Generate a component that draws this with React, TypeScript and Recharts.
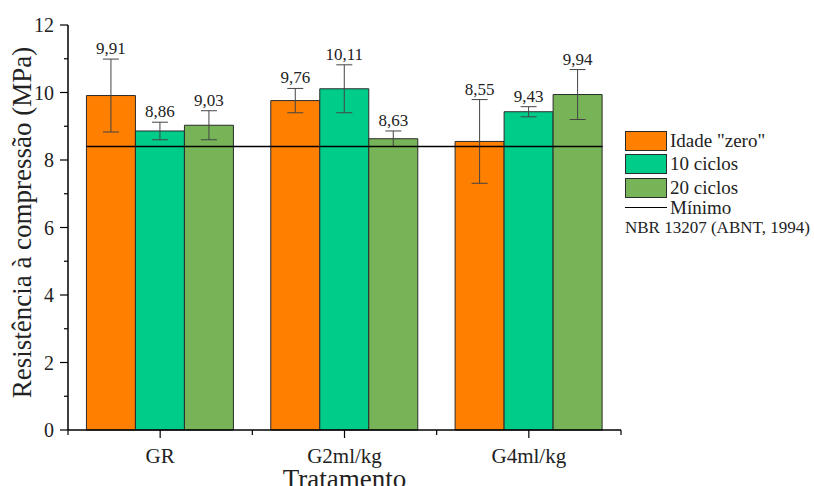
import { BarChart, Bar, XAxis, YAxis, ErrorBar, LabelList, ReferenceLine, Label } from 'recharts';

const categories = ['GR', 'G2ml/kg', 'G4ml/kg'];
const seriesNames = ['Idade "zero"', '10 ciclos', '20 ciclos'];
const idadeZero = [9.91, 9.76, 8.55];
const ciclos10 = [8.86, 10.11, 9.43];
const ciclos20 = [9.03, 8.63, 9.94];
const errIdadeZero = [1.08, 0.36, 1.24];
const errCiclos10 = [0.26, 0.71, 0.15];
const errCiclos20 = [0.43, 0.23, 0.74];
const yTicks = [0, 1, 2, 3, 4, 5, 6, 7, 8, 9, 10, 11, 12];
const minimo = 8.4;

const colors = ['#ff7f00', '#00cc8a', '#76b457'];
const font = 'Liberation Serif';

const W = 814;
const H = 486;
const M = { top: 25, right: 193, left: 0, bottom: 0 };
const Y_W = 68;
const X_H = 56;
const BAND = (W - M.right - Y_W) / categories.length;

const data = categories.map((cat, i) => ({
  cat,
  s0: idadeZero[i], e0: errIdadeZero[i],
  s1: ciclos10[i], e1: errCiclos10[i],
  s2: ciclos20[i], e2: errCiclos20[i],
}));

const fmt = (v: number) => v.toFixed(2).replace('.', ',');

function YTick({ x, y, payload }: any) {
  const v = payload.value as number;
  const major = v % 2 === 0;
  return (
    <g>
      <line x1={x} x2={x - (major ? 8 : 4)} y1={y} y2={y} stroke="#000" strokeWidth={1.2} />
      {major && (
        <text x={x - 14} y={y} dy={7} textAnchor="end" fontSize={20} fontFamily={font} fill="#222">{v}</text>
      )}
    </g>
  );
}

function XTick({ x, y, payload, index }: any) {
  const last = index === categories.length - 1;
  return (
    <g>
      <line x1={x} x2={x} y1={y} y2={y + 8} stroke="#000" strokeWidth={1.2} />
      <line x1={x - BAND / 2} x2={x - BAND / 2} y1={y} y2={y + 5} stroke="#000" strokeWidth={1.2} />
      {last && <line x1={x + BAND / 2} x2={x + BAND / 2} y1={y} y2={y + 5} stroke="#000" strokeWidth={1.2} />}
      <text x={x} y={y + 33} textAnchor="middle" fontSize={21} fontFamily={font} fill="#222">{payload.value}</text>
    </g>
  );
}

// value label sits just above the error bar cap
const valueLabel = (errs: number[]) => (p: any) => {
  const { x, y, width, height, value, index } = p;
  const pxPerUnit = height / value;
  const top = y - errs[index] * pxPerUnit;
  return (
    <text x={x + width / 2} y={top - 5} textAnchor="middle" fontSize={17} fontFamily={font} fill="#222">
      {fmt(value)}
    </text>
  );
};

const minLine = (p: any) => {
  const inset = (p.x2 - p.x1) / categories.length * 0.1;
  return <line x1={p.x1 + inset} x2={p.x2 - inset} y1={p.y1} y2={p.y2} stroke="#000" strokeWidth={1.6} />;
};

const errs = [errIdadeZero, errCiclos10, errCiclos20];

export default function App() {
  return (
    <div style={{ position: 'absolute', left: 0, top: 0, width: W, height: H, background: '#fff', overflow: 'hidden' }}>
      <BarChart width={W} height={H} data={data} margin={M} barCategoryGap="10%" barGap={0}>
        <XAxis dataKey="cat" height={X_H} tickSize={0} tickMargin={0} tick={<XTick />} tickLine={false} axisLine={{ stroke: '#000', strokeWidth: 1.5 }} interval={0}>
          <Label content={({ viewBox }: any) => (
            <text x={viewBox.x + viewBox.width / 2} y={viewBox.y + 58} textAnchor="middle" fontSize={27} fontFamily={font} fill="#222">Tratamento</text>
          )} />
        </XAxis>
        <XAxis xAxisId="top" dataKey="cat" orientation="top" height={0} tick={false} tickLine={false} axisLine={{ stroke: '#000', strokeWidth: 1.5 }} />
        <YAxis domain={[0, 12]} ticks={yTicks} width={Y_W} tickSize={0} tickMargin={0} tick={<YTick />} tickLine={false} axisLine={{ stroke: '#000', strokeWidth: 1.5 }} interval={0}>
          <Label content={({ viewBox }: any) => {
            const cx = 22;
            const cy = viewBox.y + viewBox.height / 2 - 5;
            return (
              <text x={cx} y={cy} transform={`rotate(-90 ${cx} ${cy})`} textAnchor="middle" dominantBaseline="central" fontSize={27} fontFamily={font} fill="#222">
                Resistência à compressão (MPa)
              </text>
            );
          }} />
        </YAxis>
        <YAxis yAxisId="r" orientation="right" domain={[0, 12]} width={0} tick={false} tickLine={false} axisLine={{ stroke: '#000', strokeWidth: 1.5 }} />
        {['s0', 's1', 's2'].map((k, i) => (
          <Bar key={k} dataKey={k} name={seriesNames[i]} fill={colors[i]} stroke="#2b2b2b" strokeWidth={1} isAnimationActive={false}>
            <ErrorBar dataKey={`e${i}`} width={8} stroke="#444" strokeWidth={1} />
            <LabelList dataKey={k} content={valueLabel(errs[i])} />
          </Bar>
        ))}
        <ReferenceLine y={minimo} shape={minLine} />
      </BarChart>
      <div style={{ position: 'absolute', left: 625, top: 129, fontFamily: font, color: '#222' }}>
        {seriesNames.map((n, i) => (
          <div key={n} style={{ display: 'flex', alignItems: 'center', height: 23.5 }}>
            <div style={{ width: 42, height: 20, background: colors[i], border: '1px solid #2b2b2b', boxSizing: 'border-box' }} />
            <span style={{ fontSize: 19, marginLeft: 3, lineHeight: '20px' }}>{n}</span>
          </div>
        ))}
        <div style={{ display: 'flex', alignItems: 'center', height: 16 }}>
          <div style={{ width: 42, height: 0, borderTop: '1.5px solid #000' }} />
          <span style={{ fontSize: 19, marginLeft: 3, lineHeight: '16px' }}>Mínimo</span>
        </div>
        <div style={{ fontSize: 17, lineHeight: '20px', marginTop: 2, whiteSpace: 'nowrap' }}>NBR 13207 (ABNT, 1994)</div>
      </div>
    </div>
  );
}
